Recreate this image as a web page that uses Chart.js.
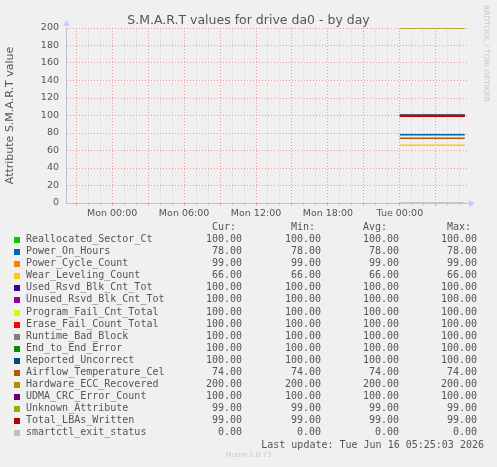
<!DOCTYPE html>
<html>
<head>
<meta charset="utf-8">
<script src="https://cdn.jsdelivr.net/npm/chart.js@4/dist/chart.umd.min.js"></script>
<style>
  html, body { margin: 0; padding: 0; background: #f0f0f0; }
  #page { position: relative; width: 497px; height: 467px; overflow: hidden; background: #f0f0f0; font-family: "DejaVu Sans", sans-serif; color: #555; }
  #chart { position: absolute; left: 0; top: 0; }
  .title { position: absolute; left: 0; top: 12px; width: 497px; text-align: center; font-size: 12.5px; line-height: 16px; color: #555; }
  .watermark { position: absolute; left: 491px; top: 5px; transform-origin: 0 0; transform: rotate(90deg); font-size: 7.5px; line-height: 9px; color: #c8c8c8; white-space: nowrap; }
  .row { position: absolute; left: 0; width: 497px; height: 12px; line-height: 12px; font-family: "DejaVu Sans Mono", monospace; font-size: 10px; color: #555; white-space: pre; }
  .row span { position: absolute; top: 0; }
  .row span.swatch { position: absolute; left: 14px; top: 4px; width: 6px; height: 6px; }
  .num { text-align: right; width: 60px; }
  .munin { position: absolute; left: 0; width: 497px; top: 451px; text-align: center; font-size: 7px; line-height: 8px; color: #c8c8c8; }
</style>
</head>
<body>
<div id="page">
  <canvas id="chart" width="497" height="225"></canvas>
  <div class="title">S.M.A.R.T values for drive da0 - by day</div>
  <div class="watermark">RRDTOOL / TOBI OETIKER</div>
  <div id="legend"></div>
  <div class="munin">Munin 2.0.73</div>
</div>
<script>
// hours relative to Mon 00:00
const sampleHours = [24, 29.42];

const xTickHours = [0, 6, 12, 18, 24];
const xTickLabels = ["Mon 00:00", "Mon 06:00", "Mon 12:00", "Mon 18:00", "Tue 00:00"];

const seriesNames = [
  "Reallocated_Sector_Ct",
  "Power_On_Hours",
  "Power_Cycle_Count",
  "Wear_Leveling_Count",
  "Used_Rsvd_Blk_Cnt_Tot",
  "Unused_Rsvd_Blk_Cnt_Tot",
  "Program_Fail_Cnt_Total",
  "Erase_Fail_Count_Total",
  "Runtime_Bad_Block",
  "End_to_End_Error",
  "Reported_Uncorrect",
  "Airflow_Temperature_Cel",
  "Hardware_ECC_Recovered",
  "UDMA_CRC_Error_Count",
  "Unknown_Attribute",
  "Total_LBAs_Written",
  "smartctl_exit_status"
];

const seriesColors = [
  "#00cc00", "#0066b3", "#ff8000", "#ffcc00", "#330099", "#990099",
  "#ccff00", "#ff0000", "#808080", "#008f00", "#00487d", "#b35a00",
  "#b38f00", "#6b006b", "#8fb300", "#b30000", "#bebebe"
];

const seriesValues = [
  [100, 100], [78, 78], [99, 99], [66, 66], [100, 100], [100, 100],
  [100, 100], [100, 100], [100, 100], [100, 100], [100, 100], [74, 74],
  [200, 200], [100, 100], [99, 99], [99, 99], [0, 0]
];

const curValues = [100, 78, 99, 66, 100, 100, 100, 100, 100, 100, 100, 74, 200, 100, 99, 99, 0];
const minValues = [100, 78, 99, 66, 100, 100, 100, 100, 100, 100, 100, 74, 200, 100, 99, 99, 0];
const avgValues = [100, 78, 99, 66, 100, 100, 100, 100, 100, 100, 100, 74, 200, 100, 99, 99, 0];
const maxValues = [100, 78, 99, 66, 100, 100, 100, 100, 100, 100, 100, 74, 200, 100, 99, 99, 0];

const lastUpdate = "Last update: Tue Jun 16 05:25:03 2026";

const majorGrid = "rgba(235, 120, 120, 0.7)";
const minorGrid = "#cfcfcf";
const axisColor = "#c0c0dc";

const axisArrows = {
  id: "axisArrows",
  afterDraw(chart) {
    const { ctx, chartArea: a } = chart;
    ctx.save();
    ctx.strokeStyle = axisColor;
    ctx.lineWidth = 1;
    ctx.beginPath();
    ctx.moveTo(a.right, a.bottom + 0.5);
    ctx.lineTo(a.right + 3, a.bottom + 0.5);
    ctx.stroke();
    ctx.fillStyle = "#c8c8ff";
    ctx.beginPath();
    ctx.moveTo(a.right + 8, a.bottom + 0.5);
    ctx.lineTo(a.right + 2, a.bottom - 3);
    ctx.lineTo(a.right + 2, a.bottom + 4);
    ctx.closePath();
    ctx.fill();
    ctx.beginPath();
    ctx.moveTo(a.left + 0.5, a.top - 8);
    ctx.lineTo(a.left - 3, a.top - 2);
    ctx.lineTo(a.left + 4, a.top - 2);
    ctx.closePath();
    ctx.fill();
    ctx.restore();
  }
};

function renderChart() {
  const datasets = seriesNames.map((name, i) => ({
    label: name,
    data: sampleHours.map((h, j) => ({ x: h, y: seriesValues[i][j] })),
    borderColor: seriesColors[i],
    backgroundColor: seriesColors[i],
    borderWidth: 1.3,
    pointRadius: 0,
    tension: 0,
    order: -i
  }));

  new Chart(document.getElementById("chart"), {
    type: "line",
    data: { datasets },
    plugins: [axisArrows],
    options: {
      responsive: false,
      animation: false,
      devicePixelRatio: 1,
      layout: { padding: { top: 28, right: 30, left: 0, bottom: 0 } },
      plugins: {
        legend: { display: false },
        tooltip: { enabled: false }
      },
      scales: {
        x: {
          type: "linear",
          min: -3.85,
          max: 29.6,
          afterFit(scale) { scale.height = 22; },
          border: { color: axisColor, dash: [1, 2] },
          grid: {
            color: (c) => (c.tick && c.tick.value % 3 === 0 ? majorGrid : minorGrid),
            tickColor: (c) => (c.tick && c.tick.value % 3 === 0 ? majorGrid : minorGrid),
            tickLength: 3,
            lineWidth: 1
          },
          ticks: {
            stepSize: 1,
            includeBounds: false,
            autoSkip: false,
            maxRotation: 0,
            padding: 2,
            color: "#555",
            font: { family: "DejaVu Sans", size: 9.5 },
            callback(value) {
              const i = xTickHours.indexOf(value);
              return i >= 0 ? xTickLabels[i] : "";
            }
          }
        },
        y: {
          min: 0,
          max: 200,
          afterFit(scale) { scale.width = 66; },
          border: { color: axisColor, dash: [1, 2] },
          grid: {
            color: (c) => (c.tick && c.tick.value % 20 === 0 ? majorGrid : minorGrid),
            drawTicks: false,
            lineWidth: 1
          },
          title: {
            display: true,
            text: "Attribute S.M.A.R.T value",
            color: "#555",
            font: { family: "DejaVu Sans", size: 11 }
          },
          ticks: {
            stepSize: 10,
            padding: 7,
            color: "#555",
            font: { family: "DejaVu Sans", size: 9.5 },
            callback(value) {
              return value % 20 === 0 ? String(value) : "";
            }
          }
        }
      }
    }
  });
}

function renderLegend() {
  const legendEl = document.getElementById("legend");
  const colRight = [242, 321, 399, 477];
  const headers = [["Cur:", 212], ["Min:", 291], ["Avg:", 363], ["Max:", 447]];
  const rowTop = (center) => `${(center - 6).toFixed(1)}px`;

  let html = `<div class="row" style="top:${rowTop(227.3)}">` +
    headers.map(([t, x]) => `<span style="left:${x}px">${t}</span>`).join("") +
    `</div>`;

  seriesNames.forEach((name, i) => {
    const vals = [curValues[i], minValues[i], avgValues[i], maxValues[i]];
    html += `
      <div class="row" style="top:${rowTop(239.3 + i * 12.03)}">
        <span class="swatch" style="background:${seriesColors[i]}"></span>
        <span style="left:26px">${name}</span>
        ${vals.map((v, k) => `<span class="num" style="left:${colRight[k] - 60}px">${v.toFixed(2)}</span>`).join("")}
      </div>`;
  });

  html += `<div class="row" style="top:${rowTop(444.5)}"><span class="num" style="left:184px;width:300px">${lastUpdate}</span></div>`;
  legendEl.innerHTML = html;
}

window.addEventListener("DOMContentLoaded", () => {
  renderChart();
  renderLegend();
});
</script>
</body>
</html>
